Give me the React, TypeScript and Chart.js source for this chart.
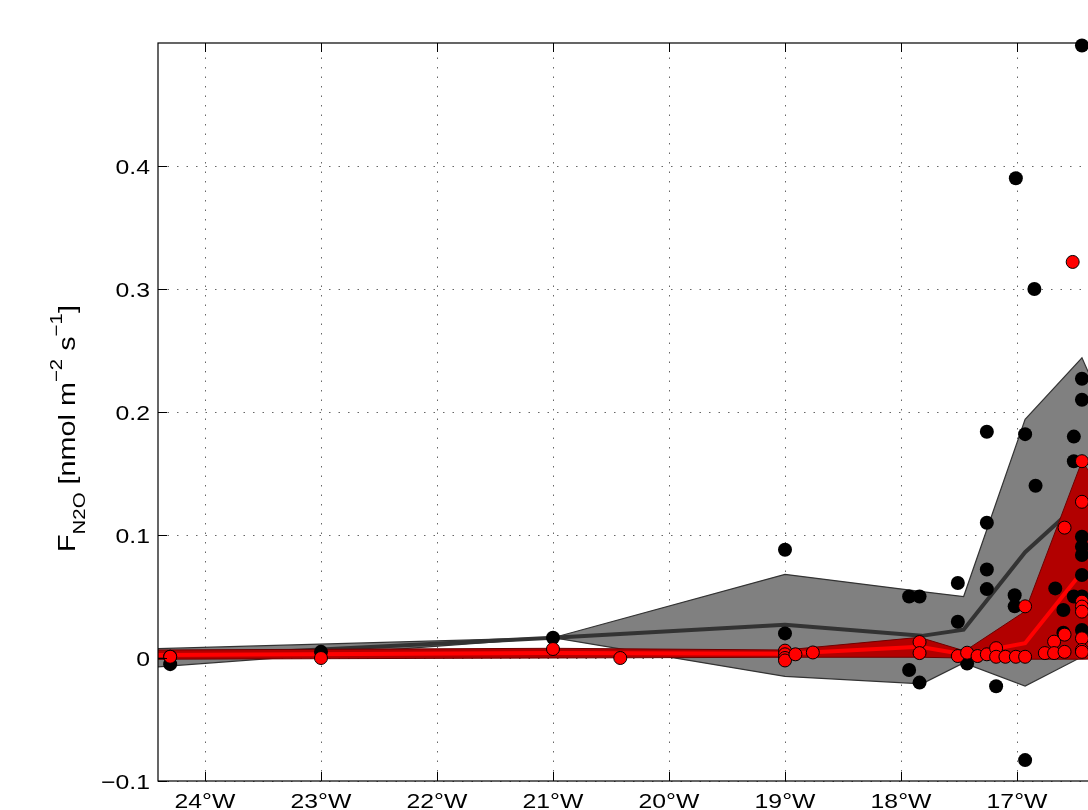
import React, { useEffect, useRef } from 'react';
import { Chart, registerables } from 'chart.js';

Chart.register(...registerables);

// ---------- axes ----------
const xMin = -24.405;
const xMax = -16.0;
const yMin = -0.1;
const yMax = 0.5;
const xTicks = [-24, -23, -22, -21, -20, -19, -18, -17, -16];
const xTickLabels = ['24°W', '23°W', '22°W', '21°W', '20°W', '19°W', '18°W', '17°W', '16°W'];
const yTicks = [-0.1, 0, 0.1, 0.2, 0.3, 0.4];
const yTickLabels = ['−0.1', '0', '0.1', '0.2', '0.3', '0.4'];

// ---------- individual samples ----------
const blackX = [
  -24.3, -24.3, -23.0, -21.0, -19.0, -19.0,
  -17.93, -17.84, -17.93, -17.84,
  -17.51, -17.51, -17.43,
  -17.26, -17.26, -17.26, -17.26, -17.18,
  -17.01, -17.02, -17.02,
  -16.93, -16.93, -16.85, -16.84,
  -16.67, -16.6, -16.6,
  -16.51, -16.51, -16.51,
  -16.44, -16.44, -16.44, -16.44, -16.44, -16.44, -16.44, -16.44, -16.44,
];
const blackY = [
  -0.005, 0.001, 0.005, 0.0165, 0.088, 0.02,
  0.05, 0.05, -0.0098, -0.02,
  0.061, 0.0295, -0.0045,
  0.184, 0.11, 0.072, 0.056, -0.023,
  0.39, 0.051, 0.042,
  0.182, -0.083, 0.3, 0.14,
  0.0566, 0.039, 0.0206,
  0.18, 0.16, 0.05,
  0.498, 0.227, 0.21, 0.0986, 0.0905, 0.0837, 0.0675, 0.05, 0.0228,
];

const redX = [
  -24.3, -23.0, -21.0, -20.42,
  -19.0, -19.0, -19.0, -19.0, -18.91, -18.76,
  -17.84, -17.84,
  -17.51, -17.43, -17.34, -17.26, -17.18, -17.18, -17.1, -17.01,
  -16.93, -16.93, -16.76, -16.68, -16.68,
  -16.59, -16.59, -16.59, -16.52,
  -16.44, -16.44, -16.44, -16.44, -16.44, -16.44, -16.44, -16.44,
];
const redY = [
  0.001, 0.0, 0.0073, 0.0,
  0.006, 0.003, 0.0, -0.002, 0.003, 0.0045,
  0.013, 0.004,
  0.0016, 0.0043, 0.0016, 0.003, 0.008, 0.001, 0.001, 0.001,
  0.001, 0.042, 0.004, 0.0133, 0.004,
  0.005, 0.019, 0.106, 0.322,
  0.16, 0.127, 0.0458, 0.0418, 0.0377, 0.016, 0.0065, 0.005,
];

// ---------- binned statistics (mean ± spread) ----------
const grayBinX = [-24.45, -21.0, -19.0, -17.82, -17.46, -16.93, -16.44, -16.0];
const grayUpper = [0.0075, 0.0165, 0.068, 0.054, 0.05, 0.194, 0.244, 0.15];
const grayMean = [0.0, 0.0165, 0.027, 0.018, 0.023, 0.086, 0.128, 0.07];
const grayLower = [-0.0075, 0.0165, -0.015, -0.021, -0.004, -0.0228, 0.001, 0.0];

const redBinX = [-24.45, -21.0, -19.0, -17.84, -17.45, -16.93, -16.44, -16.0];
const redUpper = [0.0065, 0.0079, 0.0065, 0.0168, 0.0057, 0.038, 0.16, 0.1];
const redMean = [0.0025, 0.004, 0.0035, 0.0092, 0.0028, 0.012, 0.07, 0.04];
const redLower = [-0.001, 0.0, 0.0006, 0.0006, 0.0, -0.001, -0.001, 0.0];

const FONT = '"Liberation Sans", Arial, Helvetica, sans-serif';
const STRETCH = 1.18;

const pts = (xs: number[], ys: number[]) => xs.map((x, i) => ({ x, y: ys[i] }));

function stretchedText(ctx: CanvasRenderingContext2D, text: string, x: number, y: number, align: 'left' | 'right' | 'center', stretch: number) {
  const w = ctx.measureText(text).width * stretch;
  let sx = x;
  if (align === 'right') sx = x - w;
  if (align === 'center') sx = x - w / 2;
  ctx.save();
  ctx.translate(sx, y);
  ctx.scale(stretch, 1);
  ctx.textAlign = 'left';
  ctx.fillText(text, 0, 0);
  ctx.restore();
  return w;
}

const axesPlugin = {
  id: 'matlabAxes',
  beforeDraw(chart: any) {
    const { ctx, width, height } = chart;
    ctx.save();
    ctx.fillStyle = '#ffffff';
    ctx.fillRect(0, 0, width, height);
    ctx.restore();
  },
  beforeDatasetsDraw(chart: any) {
    const { ctx, chartArea: a, scales } = chart;
    const xs = scales.x;
    const ys = scales.y;
    ctx.save();
    ctx.strokeStyle = 'rgba(0,0,0,0.6)';
    ctx.lineWidth = 1;
    ctx.setLineDash([1.5, 8]);
    xTicks.forEach((v) => {
      const px = Math.round(xs.getPixelForValue(v)) + 0.5;
      ctx.beginPath();
      ctx.moveTo(px, a.bottom);
      ctx.lineTo(px, a.top);
      ctx.stroke();
    });
    yTicks.forEach((v) => {
      const py = Math.round(ys.getPixelForValue(v)) + 0.5;
      ctx.beginPath();
      ctx.moveTo(a.left, py);
      ctx.lineTo(a.right, py);
      ctx.stroke();
    });
    ctx.restore();
  },
  afterDatasetsDraw(chart: any) {
    const { ctx, chartArea: a, scales } = chart;
    const xs = scales.x;
    const ys = scales.y;
    ctx.save();
    ctx.setLineDash([]);
    ctx.strokeStyle = '#000';
    ctx.lineWidth = 1.2;
    ctx.strokeRect(a.left, a.top, a.right - a.left, a.bottom - a.top);
    const TL = 9;
    ctx.lineWidth = 1;
    ctx.beginPath();
    xTicks.forEach((v) => {
      const px = Math.round(xs.getPixelForValue(v)) + 0.5;
      ctx.moveTo(px, a.bottom);
      ctx.lineTo(px, a.bottom - TL);
      ctx.moveTo(px, a.top);
      ctx.lineTo(px, a.top + TL);
    });
    yTicks.forEach((v) => {
      const py = Math.round(ys.getPixelForValue(v)) + 0.5;
      ctx.moveTo(a.left, py);
      ctx.lineTo(a.left + TL, py);
      ctx.moveTo(a.right, py);
      ctx.lineTo(a.right - TL, py);
    });
    ctx.stroke();

    // tick labels
    ctx.fillStyle = '#000';
    ctx.textBaseline = 'alphabetic';
    ctx.font = `21px ${FONT}`;
    yTicks.forEach((v, i) => {
      const py = ys.getPixelForValue(v);
      stretchedText(ctx, yTickLabels[i], a.left - 8, py + 7.5, 'right', STRETCH);
    });
    xTicks.forEach((v, i) => {
      const px = xs.getPixelForValue(v);
      stretchedText(ctx, xTickLabels[i], px, a.bottom + 27, 'center', STRETCH);
    });

    // y-axis title with sub/superscripts
    const segs = [
      { t: 'F', size: 24, dy: 0 },
      { t: 'N2O', size: 17, dy: 10 },
      { t: ' [nmol m', size: 24, dy: 0 },
      { t: '−2', size: 17, dy: -13 },
      { t: ' s', size: 24, dy: 0 },
      { t: '−1', size: 17, dy: -13 },
      { t: ']', size: 24, dy: 0 },
    ];
    ctx.translate(75, 552);
    ctx.rotate(-Math.PI / 2);
    let cx = 0;
    segs.forEach((s) => {
      ctx.font = `${s.size}px ${FONT}`;
      cx += stretchedText(ctx, s.t, cx, s.dy, 'left', 1.2);
    });
    ctx.restore();
  },
};

export default function App() {
  const ref = useRef<HTMLCanvasElement>(null);

  useEffect(() => {
    const canvas = ref.current;
    if (!canvas) return;
    const chart = new Chart(canvas, {
      type: 'line',
      data: {
        datasets: [
          {
            label: 'N2O flux (red)',
            data: pts(redX, redY),
            showLine: false,
            pointRadius: 6.5,
            pointBackgroundColor: '#ff0000',
            pointBorderColor: '#000000',
            pointBorderWidth: 1,
            clip: false,
          } as any,
          {
            label: 'N2O flux (black)',
            data: pts(blackX, blackY),
            showLine: false,
            pointRadius: 7,
            pointBackgroundColor: '#000000',
            pointBorderColor: '#000000',
            pointBorderWidth: 0,
            clip: false,
          } as any,
          {
            label: 'red mean',
            data: pts(redBinX, redMean),
            borderColor: '#ff0000',
            borderWidth: 4,
            pointRadius: 0,
            fill: false,
            tension: 0,
          },
          {
            label: 'red lower',
            data: pts(redBinX, redLower),
            borderColor: '#6e0000',
            borderWidth: 1,
            pointRadius: 0,
            fill: false,
          },
          {
            label: 'red upper',
            data: pts(redBinX, redUpper),
            borderColor: '#6e0000',
            borderWidth: 1,
            pointRadius: 0,
            fill: '-1',
            backgroundColor: '#b20000',
          },
          {
            label: 'gray mean',
            data: pts(grayBinX, grayMean),
            borderColor: '#333333',
            borderWidth: 4,
            pointRadius: 0,
            fill: false,
          },
          {
            label: 'gray lower',
            data: pts(grayBinX, grayLower),
            borderColor: '#333333',
            borderWidth: 1.2,
            pointRadius: 0,
            fill: false,
          },
          {
            label: 'gray upper',
            data: pts(grayBinX, grayUpper),
            borderColor: '#333333',
            borderWidth: 1.2,
            pointRadius: 0,
            fill: '-1',
            backgroundColor: '#808080',
          },
        ],
      },
      options: {
        responsive: false,
        animation: false,
        devicePixelRatio: 1,
        events: [],
        layout: {
          padding: { left: 158, top: 43, right: 1200 - 1133, bottom: 900 - 781 },
        },
        scales: {
          x: { type: 'linear', min: xMin, max: xMax, display: false },
          y: { type: 'linear', min: yMin, max: yMax, display: false },
        },
        plugins: {
          legend: { display: false },
          tooltip: { enabled: false },
          title: { display: false },
        },
      },
      plugins: [axesPlugin],
    });
    return () => chart.destroy();
  }, []);

  return (
    <div
      style={{
        position: 'fixed',
        left: 0,
        top: 0,
        width: 1088,
        height: 810,
        overflow: 'hidden',
        background: '#ffffff',
      }}
    >
      <canvas ref={ref} width={1200} height={900} style={{ display: 'block', width: 1200, height: 900 }} />
    </div>
  );
}
